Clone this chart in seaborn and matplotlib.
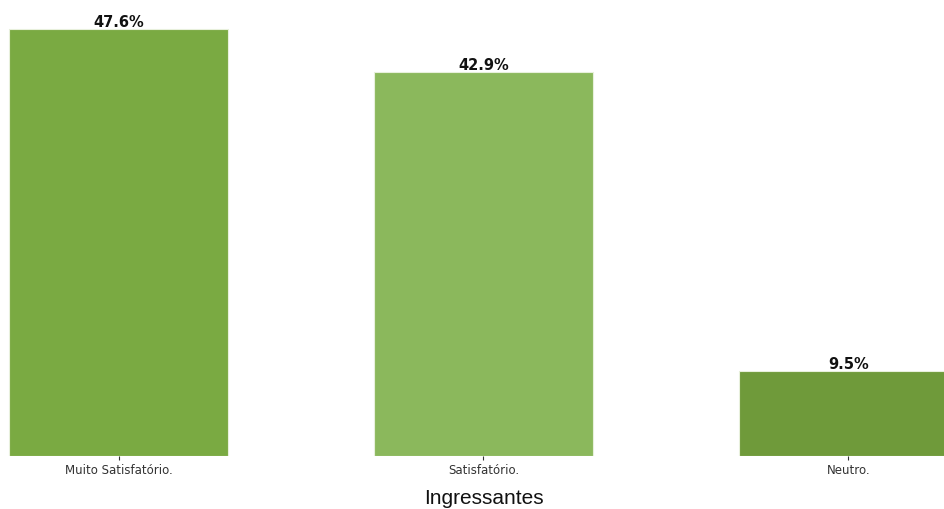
import matplotlib.pyplot as plt
import seaborn as sns
import pandas as pd

sns.set_theme(style="white")
plt.rcParams["font.family"] = ["DejaVu Sans"]

# data
categories = ["Muito Satisfatório.", "Satisfatório.", "Neutro."]
percent = [47.6, 42.9, 9.5]
colors = ["#7aaa42", "#8bb85c", "#6f9a3a"]

df = pd.DataFrame({"Resposta": categories, "Pct": percent})

fig = plt.figure(figsize=(9.44, 5.10), dpi=100)
ax = fig.add_axes([0, 0.1039, 1, 0.8961])

sns.barplot(
    data=df,
    x="Resposta",
    y="Pct",
    hue="Resposta",
    palette=colors,
    saturation=1,
    width=0.6,
    edgecolor="#e8f0dc",
    linewidth=0.8,
    legend=False,
    ax=ax,
)

ax.set_xlim(-0.325, 2.262)
ax.set_ylim(0, 51.0)

for container in ax.containers:
    ax.bar_label(container, fmt="%.1f%%", fontsize=10.5, fontweight="bold",
                 color="#111111", padding=0)

sns.despine(ax=ax, left=True, bottom=True)
ax.set_yticks([])
ax.set_ylabel("")
ax.tick_params(axis="x", labelsize=8.5, colors="#333333", length=3, width=0.8,
               bottom=True, pad=2)
ax.set_xlabel("Ingressantes", fontsize=15, family="Liberation Sans",
              color="#111111")
ax.xaxis.set_label_coords(484 / 944, -0.07)
ax.grid(False)

fig.savefig("out.png", dpi=100)
